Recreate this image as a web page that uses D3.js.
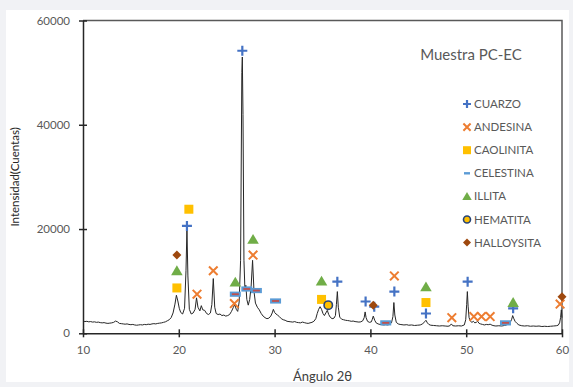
<!DOCTYPE html>
<html>
<head>
<meta charset="utf-8">
<script src="https://cdn.jsdelivr.net/npm/d3@7"></script>
<style>
  html, body { margin: 0; padding: 0; background: #f1f2f5; }
  svg { display: block; }
  text { font-family: Lato, "Liberation Sans", sans-serif; }
</style>
</head>
<body>
<svg id="chart" width="573" height="387"></svg>
<script>
// Diffractogram trace: [2θ, counts]
const trace = [
  [10.0,2350],[10.2,2250],[10.4,2300],[10.6,2200],[10.8,2250],[11.0,2150],[11.2,2200],[11.4,2100],
  [11.6,2150],[11.8,2050],[12.0,2000],[12.2,2050],[12.4,1950],[12.6,1900],[12.8,1950],[13.0,2000],
  [13.2,2100],[13.4,2350],[13.6,2200],[13.8,1900],[14.0,1850],[14.2,1800],[14.4,1750],[14.6,1800],
  [14.8,1700],[15.0,1650],[15.2,1700],[15.4,1600],[15.6,1550],[15.8,1600],[16.0,1650],[16.2,1600],
  [16.4,1700],[16.6,1650],[16.8,1750],[17.0,1700],[17.2,1800],[17.4,1850],[17.6,1800],[17.8,1900],
  [18.0,1950],[18.2,2000],[18.4,2100],[18.6,2200],[18.8,2400],[19.0,2600],[19.2,3000],[19.4,3900],
  [19.6,5600],[19.75,7300],[19.9,6200],[20.05,4800],[20.2,4000],[20.4,3700],[20.6,4800],[20.75,12000],
  [20.85,20000],[20.95,11000],[21.1,4600],[21.3,3700],[21.5,3900],[21.7,4600],[21.85,6800],[22.0,5000],
  [22.2,4300],[22.35,5300],[22.5,4500],[22.7,4400],[22.9,3800],[23.1,3600],[23.3,3900],[23.45,5500],
  [23.6,10500],[23.75,5000],[23.9,3800],[24.1,3600],[24.3,3700],[24.5,3400],[24.7,3500],[24.9,3300],
  [25.1,3400],[25.3,3600],[25.5,4200],[25.7,5000],[25.85,5500],[26.0,4600],[26.15,4200],[26.3,6000],
  [26.45,14000],[26.58,50000],[26.63,53000],[26.7,42000],[26.8,14000],[26.9,8500],[27.0,9200],[27.1,6500],
  [27.25,5400],[27.4,6500],[27.55,9000],[27.7,14000],[27.85,8000],[28.0,5800],[28.2,5000],[28.4,4500],
  [28.6,3800],[28.8,3300],[29.0,3000],[29.2,2800],[29.4,2900],[29.6,3300],[29.75,3900],[29.87,4600],
  [30.0,4000],[30.15,3700],[30.3,3500],[30.5,3200],[30.7,2800],[30.9,2600],[31.1,2500],[31.3,2300],
  [31.5,2250],[31.7,2200],[31.9,2150],[32.1,2250],[32.3,2100],[32.5,2050],[32.7,2000],[32.9,2150],
  [33.1,2050],[33.3,1950],[33.5,1900],[33.7,2000],[33.9,2100],[34.1,2300],[34.3,2800],[34.45,3800],
  [34.6,4600],[34.75,5100],[34.9,4600],[35.05,3800],[35.2,3400],[35.35,3900],[35.5,4400],[35.65,3600],
  [35.8,3100],[36.0,2800],[36.2,2900],[36.35,3400],[36.45,5500],[36.55,8000],[36.65,5000],[36.8,3100],
  [37.0,2700],[37.2,2600],[37.4,2500],[37.6,2450],[37.8,2400],[38.0,2300],[38.2,2350],[38.4,2250],
  [38.6,2200],[38.8,2150],[39.0,2200],[39.2,2400],[39.35,3000],[39.45,4100],[39.55,3000],[39.7,2300],
  [39.9,2100],[40.1,2200],[40.2,2700],[40.3,3300],[40.45,2500],[40.6,2000],[40.8,1800],[41.0,1700],
  [41.2,1650],[41.4,1600],[41.6,1650],[41.8,1600],[42.0,1700],[42.2,2000],[42.35,3200],[42.45,5900],
  [42.55,3500],[42.7,2100],[42.9,1800],[43.1,1700],[43.3,1650],[43.5,1600],[43.8,1650],[44.0,1550],
  [44.3,1600],[44.6,1500],[44.9,1550],[45.2,1600],[45.45,1800],[45.65,2200],[45.8,2500],[45.95,2000],
  [46.1,1700],[46.3,1550],[46.6,1500],[46.9,1450],[47.2,1400],[47.5,1450],[47.8,1400],[48.1,1350],
  [48.3,1450],[48.45,1800],[48.6,1450],[48.9,1400],[49.2,1450],[49.5,1400],[49.8,1600],[49.95,2600],
  [50.05,5500],[50.12,8000],[50.2,5200],[50.3,3000],[50.45,2300],[50.6,2100],[50.75,2300],[50.9,2000],
  [51.05,2100],[51.2,2300],[51.35,1900],[51.5,1800],[51.7,1700],[51.9,1600],[52.1,1700],[52.3,1650],
  [52.5,1750],[52.7,1550],[52.9,1450],[53.1,1400],[53.4,1450],[53.7,1400],[54.0,1500],[54.2,1600],
  [54.4,1750],[54.6,2100],[54.75,2700],[54.85,3400],[54.95,2900],[55.1,2300],[55.3,1900],[55.5,1600],
  [55.8,1450],[56.1,1400],[56.4,1450],[56.7,1350],[57.0,1400],[57.3,1350],[57.6,1400],[57.9,1300],
  [58.2,1350],[58.5,1300],[58.8,1350],[59.1,1400],[59.4,1450],[59.6,1550],[59.75,2000],[59.85,3000],
  [59.93,4500],[60.0,3000]
];

// Phase identification markers: [2θ, marker height]
const cuarzo    = [[20.85,20600],[26.63,54200],[36.55,9900],[39.5,6100],[40.4,5100],[42.5,8000],[45.8,3800],[50.15,9900],[54.9,4800]];
const andesina  = [[21.9,7500],[23.6,12000],[25.8,5700],[27.75,15000],[42.5,11000],[48.5,3000],[50.8,3200],[51.6,3200],[52.5,3200],[59.8,5600]];
const caolinita = [[19.8,8700],[21.05,23800],[34.9,6500],[45.8,5900]];
const celestina = [[25.9,7500],[27.1,8500],[28.1,8200],[30.1,6200],[41.6,2000],[54.1,2000]];
const illita    = [[19.8,12000],[25.9,9800],[27.75,18000],[34.9,10000],[45.8,8900],[54.9,5900]];
const hematita  = [[35.6,5400]];
const halloysita= [[19.8,15000],[40.3,5400],[60.0,7000]];

const xTicks = [10, 20, 30, 40, 50, 60];
const yTicks = [0, 20000, 40000, 60000];
const legendNames = ["CUARZO","ANDESINA","CAOLINITA","CELESTINA","ILLITA","HEMATITA","HALLOYSITA"];

const svg = d3.select("#chart");
const plot = { left: 83, right: 562, top: 20.5, bottom: 333.3 };

// white chart card
svg.append("rect").attr("x", 6).attr("y", 10).attr("width", 563).attr("height", 372).attr("fill", "#ffffff");

const x = d3.scaleLinear().domain([10, 60]).range([plot.left, plot.right]);
const y = d3.scaleLinear().domain([0, 60000]).range([plot.bottom, plot.top]);

// plot-area frame (top & right)
svg.append("path")
  .attr("d", `M${plot.left},${plot.top}H${plot.right}V${plot.bottom}`)
  .attr("fill", "none").attr("stroke", "#595959").attr("stroke-width", 1.5);

// trace
svg.append("path")
  .datum(trace)
  .attr("fill", "none")
  .attr("stroke", "#262626")
  .attr("stroke-width", 1)
  .attr("stroke-linejoin", "round")
  .attr("d", d3.line().x(d => x(d[0])).y(d => y(d[1])));

// axes
const xAxis = d3.axisBottom(x).tickValues(xTicks).tickFormat(d3.format("d"))
  .tickSizeInner(4).tickSizeOuter(0).tickPadding(9);
const gx = svg.append("g").attr("transform", `translate(0,${plot.bottom})`).call(xAxis);
const yAxis = d3.axisLeft(y).tickValues(yTicks).tickFormat(d3.format("d"))
  .tickSizeInner(4).tickSizeOuter(0).tickPadding(9);
const gy = svg.append("g").attr("transform", `translate(${plot.left},0)`).call(yAxis);
[gx, gy].forEach(g => {
  g.select(".domain").attr("stroke", "#262626").attr("stroke-width", 1.5);
  g.selectAll(".tick line").attr("stroke", "#262626").attr("stroke-width", 1.5);
  g.selectAll(".tick text").attr("fill", "#595959").attr("font-size", 11.5)
    .attr("font-family", "Lato, 'Liberation Sans', sans-serif");
});
// cross-style ticks
gx.selectAll(".tick line").attr("y1", -4).attr("y2", 4);
gy.selectAll(".tick line").attr("x1", -4).attr("x2", 4);

// axis titles
svg.append("text").attr("x", x(35)).attr("y", 381).attr("text-anchor", "middle")
  .attr("font-size", 13).attr("fill", "#404040").text("Ángulo 2θ");
svg.append("text").attr("transform", `translate(19,${(plot.top + plot.bottom) / 2}) rotate(-90)`)
  .attr("text-anchor", "middle").attr("font-size", 11.5).attr("fill", "#262626").text("Intensidad(Cuentas)");

// chart title
svg.append("text").attr("x", 471).attr("y", 60).attr("text-anchor", "middle")
  .attr("font-size", 15).attr("fill", "#595959").text("Muestra PC-EC");

// marker drawers
const blue = "#4472C4", orange = "#ED7D31", gold = "#FFC000", green = "#70AD47", brown = "#9E480E";
function drawPlus(g, s) {
  g.append("path").attr("d", `M${-s},0H${s}M0,${-s}V${s}`).attr("stroke", blue).attr("stroke-width", 2.2).attr("fill", "none");
}
function drawX(g, s) {
  g.append("path").attr("d", `M${-s},${-s}L${s},${s}M${-s},${s}L${s},${-s}`).attr("stroke", orange).attr("stroke-width", 2).attr("fill", "none");
}
function drawSquare(g, s) {
  g.append("rect").attr("x", -s).attr("y", -s).attr("width", 2 * s).attr("height", 2 * s).attr("fill", gold);
}
function drawDash(g, s, big) {
  if (big) {
    g.append("rect").attr("x", -5.5).attr("y", -2.6).attr("width", 11).attr("height", 5.2).attr("fill", "#5B9BD5");
    g.append("rect").attr("x", -3.5).attr("y", -0.9).attr("width", 7).attr("height", 1.8).attr("fill", "#C0504D");
  } else {
    g.append("rect").attr("x", -s).attr("y", -1.2).attr("width", 2 * s).attr("height", 2.4).attr("fill", "#5B9BD5");
  }
}
function drawTriangle(g, s) {
  g.append("path").attr("d", `M0,${-s}L${s * 1.05},${s * 0.8}L${-s * 1.05},${s * 0.8}Z`).attr("fill", green);
}
function drawCircle(g, s) {
  g.append("circle").attr("r", s).attr("fill", gold).attr("stroke", "#264478").attr("stroke-width", 1.6);
}
function drawDiamond(g, s) {
  g.append("path").attr("d", `M0,${-s}L${s},0L0,${s}L${-s},0Z`).attr("fill", brown);
}

const series = [
  { data: cuarzo,     draw: (g, L) => drawPlus(g, L ? 4 : 5) },
  { data: andesina,   draw: (g, L) => drawX(g, L ? 3.6 : 4.3) },
  { data: caolinita,  draw: (g, L) => drawSquare(g, L ? 4 : 4.5) },
  { data: celestina,  draw: (g, L) => drawDash(g, 3, !L) },
  { data: illita,     draw: (g, L) => drawTriangle(g, L ? 4.5 : 5.5) },
  { data: hematita,   draw: (g, L) => drawCircle(g, L ? 3.5 : 4.2) },
  { data: halloysita, draw: (g, L) => drawDiamond(g, L ? 4 : 4.5) }
];

// draw markers in series order
series.forEach(s => {
  s.data.forEach(d => {
    const g = svg.append("g").attr("transform", `translate(${x(d[0])},${y(d[1])})`);
    s.draw(g, false);
  });
});

// legend
const legendY0 = 104, legendStep = 23.1;
legendNames.forEach((name, i) => {
  const yy = legendY0 + i * legendStep;
  const g = svg.append("g").attr("transform", `translate(467,${yy})`);
  series[i].draw(g, true);
  svg.append("text").attr("x", 474).attr("y", yy + 4).attr("font-size", 11.5)
    .attr("fill", "#595959").text(name);
});
</script>
</body>
</html>
